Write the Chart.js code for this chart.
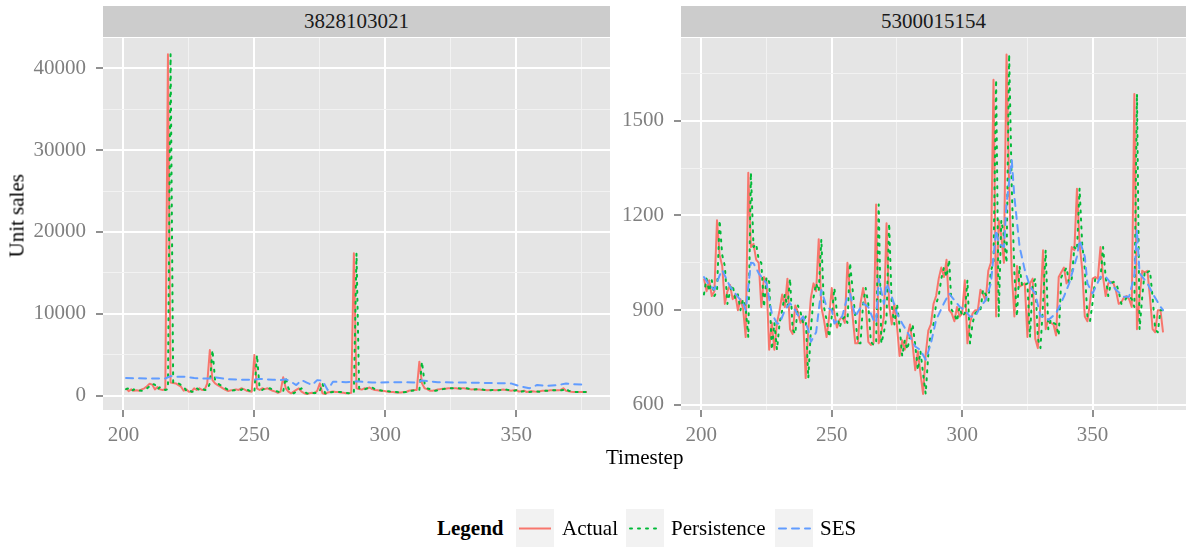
<!DOCTYPE html>
<html>
<head>
<meta charset="utf-8">
<script src="https://cdn.jsdelivr.net/npm/chart.js@4.4.1/dist/chart.umd.min.js"></script>
<style>
body{margin:0;background:#fff;font-family:"Liberation Serif","Times New Roman",serif;}
#wrap{position:relative;width:1188px;height:548px;overflow:hidden;background:#fff}
.strip{position:absolute;top:6px;height:31px;background:#CCCCCC;color:#1A1A1A;font-size:21px;line-height:31px;text-align:center}
canvas{position:absolute;top:0}
.title{position:absolute;color:#000;font-size:21px;white-space:nowrap}
.key{position:absolute;top:509px;width:38px;height:38px;background:#F2F2F2}
.key svg{position:absolute;left:0;top:0}
.lab{position:absolute;top:509px;line-height:38px;font-size:21px;color:#000}
</style>
</head>
<body>
<div id="wrap">
  <div class="strip" style="left:103px;width:507px">3828103021</div>
  <div class="strip" style="left:681px;width:505px">5300015154</div>
  <canvas id="left" width="612" height="450" style="left:0"></canvas>
  <canvas id="right" width="576" height="450" style="left:612px"></canvas>
  <div class="title" style="left:-21px;top:207px;transform:rotate(-90deg);width:76px;text-align:center">Unit sales</div>
  <div class="title" style="left:606px;top:445px">Timestep</div>

  <div class="lab" style="left:437px;font-weight:bold">Legend</div>
  <div class="key" style="left:516px"><svg width="38" height="38"><line x1="3" y1="19.5" x2="35" y2="19.5" stroke="#F8766D" stroke-width="2"/></svg></div>
  <div class="lab" style="left:562px">Actual</div>
  <div class="key" style="left:626px"><svg width="38" height="38"><line x1="4" y1="19.5" x2="35" y2="19.5" stroke="#00BA38" stroke-width="2" stroke-dasharray="2 6" stroke-linecap="round"/></svg></div>
  <div class="lab" style="left:671px">Persistence</div>
  <div class="key" style="left:775px"><svg width="38" height="38"><line x1="4" y1="19.5" x2="35" y2="19.5" stroke="#619CFF" stroke-width="2" stroke-dasharray="7 6" stroke-linecap="round"/></svg></div>
  <div class="lab" style="left:820px">SES</div>
</div>

<script>
// timesteps start here, one value per step
const firstStep = 201;

// x axis (shared by both panels)
const xMin = 192.2, xMax = 385.8;
const xTicks = [200, 225, 250, 275, 300, 325, 350, 375];
const xMajor = [200, 250, 300, 350];

// ---- panel 1: 3828103021 ----
const actualA = [
  900, 560, 770, 600, 650, 600, 770, 900, 1150, 1450,      // 201
  1350, 770, 1050, 770, 700, 800, 41700, 1600, 1550, 1500,  // 211
  1300, 1100, 610, 770, 490, 490, 900, 690, 900, 700,       // 221
  700, 1500, 5580, 1900, 1500, 1300, 1100, 900, 700, 570,   // 231
  650, 700, 770, 700, 900, 800, 600, 550, 490, 4970,        // 241
  900, 690, 900, 800, 900, 750, 600, 490, 330, 490,         // 251
  2240, 900, 490, 290, 490, 700, 900, 490, 300, 200,        // 261
  300, 350, 290, 600, 1500, 300, 200, 400, 450, 500,        // 271
  450, 450, 400, 350, 300, 300, 350, 17400, 900, 800,       // 281
  750, 900, 850, 1000, 800, 700, 650, 600, 600, 550,        // 291
  490, 450, 450, 400, 400, 400, 450, 450, 600, 650,         // 301
  700, 700, 4150, 1500, 900, 800, 600, 600, 650, 750,       // 311
  800, 850, 850, 900, 900, 900, 900, 850, 900, 900,         // 321
  850, 800, 750, 800, 750, 750, 700, 700, 650, 700,         // 331
  700, 650, 700, 700, 750, 700, 650, 600, 650, 700,         // 341
  500, 550, 600, 450, 500, 550, 500, 490, 550, 600,         // 351
  600, 600, 650, 650, 650, 650, 700, 900, 600, 550,         // 361
  490, 450, 450, 450, 450, 450, 450                         // 371
];
const persistenceA = [
  800, 900, 560, 770, 600, 650, 600, 770, 900, 1150,        // 201
  1450, 1350, 770, 1050, 770, 700, 800, 41700, 1600, 1550,  // 211
  1500, 1300, 1100, 610, 770, 490, 490, 900, 690, 900,      // 221
  700, 700, 1500, 5580, 1900, 1500, 1300, 1100, 900, 700,   // 231
  570, 650, 700, 770, 700, 900, 800, 600, 550, 490,         // 241
  4970, 900, 690, 900, 800, 900, 750, 600, 490, 330,        // 251
  490, 2240, 900, 490, 290, 490, 700, 900, 490, 300,        // 261
  200, 300, 350, 290, 600, 1500, 300, 200, 400, 450,        // 271
  500, 450, 450, 400, 350, 300, 300, 350, 17400, 900,       // 281
  800, 750, 900, 850, 1000, 800, 700, 650, 600, 600,        // 291
  550, 490, 450, 450, 400, 400, 400, 450, 450, 600,         // 301
  650, 700, 700, 4150, 1500, 900, 800, 600, 600, 650,       // 311
  750, 800, 850, 850, 900, 900, 900, 900, 850, 900,         // 321
  900, 850, 800, 750, 800, 750, 750, 700, 700, 650,         // 331
  700, 700, 650, 700, 700, 750, 700, 650, 600, 650,         // 341
  700, 500, 550, 600, 450, 500, 550, 500, 490, 550,         // 351
  600, 600, 600, 650, 650, 650, 650, 700, 900, 600,         // 361
  550, 490, 450, 450, 450, 450, 450                         // 371
];
const sesStepsA = [201, 210, 216, 218, 221, 224, 227, 231, 233, 235, 240, 246, 250, 252, 257, 260, 262, 264, 266, 268, 270, 272, 274, 276, 278, 280, 285, 289, 295, 305, 312, 314, 320, 330, 340, 348, 352, 355, 358, 362, 366, 369, 372, 377];
const sesValuesA = [2150, 2100, 2100, 2400, 2300, 2300, 2150, 2100, 2100, 2250, 2000, 1950, 1950, 2050, 1950, 1900, 2000, 1700, 1300, 1900, 1600, 1300, 1900, 1850, 700, 1700, 1650, 1750, 1600, 1650, 1600, 1850, 1650, 1600, 1550, 1500, 1100, 900, 1300, 1200, 1300, 1500, 1400, 1350];
const yTicksA = [0, 5000, 10000, 15000, 20000, 25000, 30000, 35000, 40000];
const yMajorA = [0, 10000, 20000, 30000, 40000];

// ---- panel 2: 5300015154 ----
const actualB = [
  1000, 960, 995, 945, 960, 1185, 1075, 1040, 920, 960,     // 201
  980, 935, 950, 900, 935, 905, 815, 1335, 1100, 1110,      // 211
  1060, 1050, 910, 1005, 990, 775, 860, 775, 860, 900,      // 221
  950, 910, 1000, 840, 825, 915, 895, 860, 880, 685,        // 231
  840, 940, 985, 960, 1125, 910, 870, 815, 880, 970,        // 241
  890, 845, 870, 880, 860, 1050, 965, 880, 795, 795,        // 251
  920, 970, 920, 800, 790, 795, 1235, 795, 830, 880,        // 261
  1175, 915, 855, 920, 850, 755, 805, 775, 820, 855,        // 271
  790, 710, 770, 700, 635, 760, 835, 855, 920, 945,         // 281
  1000, 1035, 1005, 1060, 900, 890, 865, 910, 880, 890,     // 291
  995, 795, 860, 890, 900, 900, 965, 950, 930, 1025,        // 301
  1050, 1630, 880, 1185, 1135, 1050, 1710, 1290, 1020, 880, // 311
  1040, 975, 980, 985, 815, 985, 1000, 810, 780, 920,       // 321
  1090, 840, 870, 860, 855, 820, 1005, 1020, 1035, 985,     // 331
  1000, 1100, 1090, 1285, 1110, 1030, 880, 865, 925, 1000,  // 341
  1005, 1000, 1100, 1005, 945, 985, 990, 985, 960, 920,     // 351
  925, 940, 945, 935, 910, 1585, 840, 940, 1025, 1020,      // 361
  1025, 940, 840, 830, 900, 900, 830                        // 371
];
const persistenceB = [
  950, 1000, 960, 995, 945, 960, 1185, 1075, 1040, 920,     // 201
  960, 980, 935, 950, 900, 935, 905, 815, 1335, 1100,       // 211
  1110, 1060, 1050, 910, 1005, 990, 775, 860, 775, 860,     // 221
  900, 950, 910, 1000, 840, 825, 915, 895, 860, 880,        // 231
  685, 840, 940, 985, 960, 1125, 910, 870, 815, 880,        // 241
  970, 890, 845, 870, 880, 860, 1050, 965, 880, 795,        // 251
  795, 920, 970, 920, 800, 790, 795, 1235, 795, 830,        // 261
  880, 1175, 915, 855, 920, 850, 755, 805, 775, 820,        // 271
  855, 790, 710, 770, 700, 635, 760, 835, 855, 920,         // 281
  945, 1000, 1035, 1005, 1060, 900, 890, 865, 910, 880,     // 291
  890, 995, 795, 860, 890, 900, 900, 965, 950, 930,         // 301
  1025, 1050, 1630, 880, 1185, 1135, 1050, 1710, 1290, 1020,// 311
  880, 1040, 975, 980, 985, 815, 985, 1000, 810, 780,       // 321
  920, 1090, 840, 870, 860, 855, 820, 1005, 1020, 1035,     // 331
  985, 1000, 1100, 1090, 1285, 1110, 1030, 880, 865, 925,   // 341
  1000, 1005, 1000, 1100, 1005, 945, 985, 990, 985, 960,    // 351
  920, 925, 940, 945, 935, 910, 1585, 840, 940, 1025,       // 361
  1020, 1025, 940, 840, 830, 900, 900                       // 371
];
const sesStepsB = [201, 203, 205, 207, 208, 211, 213, 216, 217, 219, 220, 222, 225, 227, 229, 230, 232, 234, 236, 238, 239, 241, 242, 244, 245, 246, 248, 250, 251, 254, 256, 257, 259, 262, 264, 266, 267, 268, 270, 271, 273, 275, 277, 280, 282, 284, 286, 288, 290, 293, 295, 297, 299, 301, 303, 305, 307, 309, 311, 313, 314, 316, 317, 319, 320, 322, 324, 326, 328, 330, 332, 333, 336, 339, 341, 344, 345, 347, 348, 350, 353, 355, 357, 359, 362, 364, 366, 367, 368, 371, 373, 376, 377];
const sesValuesB = [1005, 980, 965, 1010, 1027, 975, 953, 922, 900, 1050, 1049, 1017, 985, 890, 858, 858, 900, 922, 900, 869, 880, 837, 800, 830, 900, 964, 911, 900, 858, 880, 943, 953, 880, 922, 910, 869, 860, 1000, 920, 985, 943, 890, 858, 816, 785, 774, 743, 795, 869, 922, 953, 932, 911, 900, 880, 880, 911, 932, 985, 1154, 1112, 1100, 1239, 1375, 1260, 1101, 1027, 975, 953, 880, 880, 869, 890, 943, 985, 1070, 1122, 1070, 985, 953, 1006, 1006, 985, 964, 943, 943, 1010, 1154, 1017, 985, 953, 911, 900];
const yTicksB = [600, 750, 900, 1050, 1200, 1350, 1500, 1650];
const yMajorB = [600, 900, 1200, 1500];

const serif = "'Liberation Serif', 'Times New Roman', serif";

// grey panel background like ggplot
const panelBg = {
  id: 'panelBg',
  beforeDraw(chart){
    const {ctx, chartArea:a} = chart;
    ctx.save();
    ctx.fillStyle = '#E5E5E5';
    ctx.fillRect(a.left, a.top, a.right - a.left, a.bottom - a.top);
    ctx.restore();
  }
};

const pts = vals => vals.map((v, i) => ({x: firstStep + i, y: v}));
const pairs = (steps, vals) => steps.map((t, i) => ({x: t, y: vals[i]}));

function axis(min, max, ticks, major, fit, pad){
  return {
    type: 'linear', min: min, max: max,
    afterBuildTicks: s => { s.ticks = ticks.map(v => ({value: v})); },
    afterFit: fit,
    border: {display: false},
    grid: {
      color: c => major.includes(c.tick && c.tick.value) ? '#FFFFFF' : '#F2F2F2',
      lineWidth: c => major.includes(c.tick && c.tick.value) ? 2 : 1,
      tickColor: c => major.includes(c.tick && c.tick.value) ? '#6B6B6B' : 'rgba(0,0,0,0)',
      tickLength: 7, tickWidth: 1.5
    },
    ticks: {
      autoSkip: false, maxRotation: 0, padding: pad, color: '#7F7F7F',
      font: {family: serif, size: 21},
      callback: v => major.includes(v) ? String(v) : ''
    }
  };
}

function panel(id, actual, persistence, sesSteps, sesValues, yMin, yMax, yTicks, yMajor, yWidth){
  new Chart(document.getElementById(id), {
    type: 'line',
    data: {datasets: [
      {label: 'Actual', data: pts(actual), borderColor: '#F8766D', borderWidth: 2, order: 3},
      {label: 'Persistence', data: pts(persistence), borderColor: '#00BA38', borderWidth: 2, borderDash: [2, 6], borderCapStyle: 'round', order: 2},
      {label: 'SES', data: pairs(sesSteps, sesValues), borderColor: '#619CFF', borderWidth: 2, borderDash: [7, 6], borderCapStyle: 'round', order: 1}
    ]},
    options: {
      responsive: false, animation: false,
      elements: {point: {radius: 0}, line: {tension: 0, borderJoinStyle: 'round'}},
      layout: {padding: {top: 38, right: 2, left: 0, bottom: 0}},
      plugins: {legend: {display: false}, tooltip: {enabled: false}},
      scales: {
        x: axis(xMin, xMax, xTicks, xMajor, s => { s.height = 40; }, 6),
        y: axis(yMin, yMax, yTicks, yMajor, s => { s.width = yWidth; }, 10)
      }
    },
    plugins: [panelBg]
  });
}

function drawAll(){
  panel('left', actualA, persistenceA, sesStepsA, sesValuesA, -1750, 43700, yTicksA, yMajorA, 103);
  panel('right', actualB, persistenceB, sesStepsB, sesValuesB, 584, 1762, yTicksB, yMajorB, 69);
}

document.fonts.load("21px 'Liberation Serif'").then(drawAll, drawAll);
</script>
</body>
</html>
